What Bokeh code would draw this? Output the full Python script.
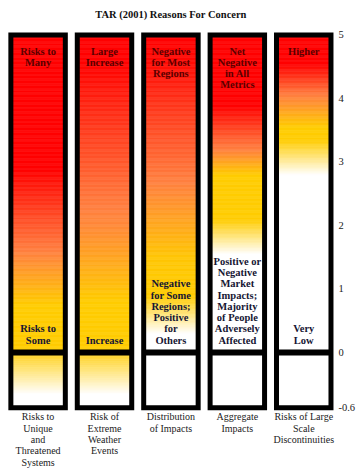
import numpy as np
from bokeh.plotting import figure
from bokeh.models import ColumnDataSource, FixedTicker, Range1d
from bokeh.core.properties import value
from bokeh.embed import file_html
from bokeh.resources import INLINE

# ---------------- data ----------------
title_text = "TAR (2001) Reasons For Concern"

categories = [
    "Risks to\nUnique\nand\nThreatened\nSystems",
    "Risk of\nExtreme\nWeather\nEvents",
    "Distribution\nof Impacts",
    "Aggregate\nImpacts",
    "Risks of Large\nScale\nDiscontinuities",
]
top_labels = [
    "Risks to\nMany",
    "Large\nIncrease",
    "Negative\nfor Most\nRegions",
    "Net\nNegative\nin All\nMetrics",
    "Higher",
]
bottom_labels = [
    "Risks to\nSome",
    "Increase",
    "Negative\nfor Some\nRegions;\nPositive\nfor\nOthers",
    "Positive or\nNegative\nMarket\nImpacts;\nMajority\nof People\nAdversely\nAffected",
    "Very\nLow",
]

temp_min = -0.6
temp_max = 5.0
y_ticks = [5, 4, 3, 2, 1, 0, -0.6]
y_tick_labels = ["5", "4", "3", "2", "1", "0", "-0.6"]

# risk level (0 = none/white, 0.5 = moderate/yellow, 1 = high/red) at temperature change
risk_unique_t = [-0.6, -0.45, -0.02, 0.0, 0.75, 1.6, 2.9, 5.0]
risk_unique_r = [0.0, 0.0, 0.42, 0.5, 0.5, 0.75, 1.0, 1.0]

risk_extreme_t = [-0.6, -0.45, -0.02, 0.0, 0.8, 2.0, 4.6, 5.0]
risk_extreme_r = [0.0, 0.0, 0.42, 0.5, 0.5, 0.72, 1.0, 1.0]

risk_distribution_t = [-0.6, 0.0, 0.3, 0.9, 1.5, 2.7, 4.6, 5.0]
risk_distribution_r = [0.0, 0.0, 0.0, 0.5, 0.52, 0.75, 0.98, 1.0]

risk_aggregate_t = [-0.6, 0.0, 1.55, 2.1, 2.8, 3.2, 3.9, 5.0]
risk_aggregate_r = [0.0, 0.0, 0.0, 0.5, 0.5, 0.75, 1.0, 1.0]

risk_discontinuities_t = [-0.6, 0.0, 2.8, 3.35, 3.55, 4.05, 4.55, 5.0]
risk_discontinuities_r = [0.0, 0.0, 0.0, 0.5, 0.5, 0.75, 1.0, 1.0]

# ---------------- styling / helpers ----------------
risk_levels = [0.0, 0.5, 0.75, 1.0]
risk_colors = [(255, 255, 255), (255, 204, 0), (255, 128, 64), (255, 0, 0)]

BELOW_STRETCH = 1.45  # the below-zero panel is drawn taller than scale


def disp(v):
    v = float(v)
    return v * BELOW_STRETCH if v < 0 else v


def risk_to_color(r):
    rgb = [np.interp(r, risk_levels, [c[k] for c in risk_colors]) for k in range(3)]
    return "#%02x%02x%02x" % tuple(int(round(c)) for c in rgb)


series = [
    (risk_unique_t, risk_unique_r),
    (risk_extreme_t, risk_extreme_r),
    (risk_distribution_t, risk_distribution_r),
    (risk_aggregate_t, risk_aggregate_r),
    (risk_discontinuities_t, risk_discontinuities_r),
]

xs = [float(i) for i in range(len(categories))]
half = 0.41
step = 0.02

L, R, B, T, C = [], [], [], [], []
n_steps = int(round((temp_max - temp_min) / step))
for i, (tt, rr) in enumerate(series):
    for k in range(n_steps):
        lo = temp_min + k * step
        hi = lo + step
        mid = 0.5 * (lo + hi)
        L.append(xs[i] - half)
        R.append(xs[i] + half)
        B.append(disp(lo))
        T.append(disp(hi))
        C.append(risk_to_color(np.interp(mid, tt, rr)))

slices = ColumnDataSource(dict(left=L, right=R, bottom=B, top=T, color=C))

FONT = value("Liberation Serif")
n = len(xs)

p = figure(
    width=358, height=471,
    x_range=Range1d(-0.566, 4.478),
    y_range=Range1d(-1.874, 5.543),
    output_backend="svg", toolbar_location=None,
    x_axis_location=None, y_axis_location="right",
    min_border=0, min_border_left=0, min_border_right=0,
    min_border_top=0, min_border_bottom=0,
)
p.outline_line_color = None
p.grid.visible = False
p.background_fill_color = "white"
p.border_fill_color = "white"

# gradient "embers"
p.quad(left="left", right="right", bottom="bottom", top="top", source=slices,
       fill_color="color", line_color="color", line_width=0.6)

# black frames
p.quad(left=[x - half for x in xs], right=[x + half for x in xs],
       bottom=[disp(temp_min)] * n, top=[temp_max] * n,
       fill_color=None, line_color="black", line_width=5, line_join="miter")
p.segment(x0=[x - half for x in xs], x1=[x + half for x in xs],
          y0=[0.0] * n, y1=[0.0] * n, line_color="black",
          line_width=6, line_cap="butt")

# texts in bars
p.text(x=xs, y=[4.83] * n, text=top_labels, text_align="center",
       text_baseline="top", text_font=FONT, text_font_style="bold",
       text_font_size="10.5px", text_line_height=1.02, text_color="#5a0000")
p.text(x=xs, y=[0.11] * n, text=bottom_labels, text_align="center",
       text_baseline="bottom", text_font=FONT, text_font_style="bold",
       text_font_size="10.5px", text_line_height=1.02, text_color="#161633")

# category names under the bars
p.text(x=xs, y=[-0.929] * n, text=categories, text_align="center",
       text_baseline="top", text_font=FONT, text_font_size="10px",
       text_line_height=1.03, text_color="#222222")

# title
p.text(x=[2.0], y=[5.32], text=[title_text], text_align="center",
       text_baseline="middle", text_font=FONT, text_font_style="bold",
       text_font_size="10.5px", text_color="#111111")

# right axis
tick_pos = [disp(t) for t in y_ticks]
ax = p.yaxis[0]
ax.ticker = FixedTicker(ticks=tick_pos)
ax.major_label_overrides = {tp: lab for tp, lab in zip(tick_pos, y_tick_labels)}
ax.axis_line_color = None
ax.major_tick_line_color = None
ax.minor_tick_line_color = None
ax.major_tick_out = 0
ax.major_tick_in = 0
ax.major_label_standoff = 3
ax.major_label_text_font = "Liberation Serif"
ax.major_label_text_font_size = "10.5px"
ax.major_label_text_color = "#222222"

open("out.html", "w").write(file_html(p, INLINE))
